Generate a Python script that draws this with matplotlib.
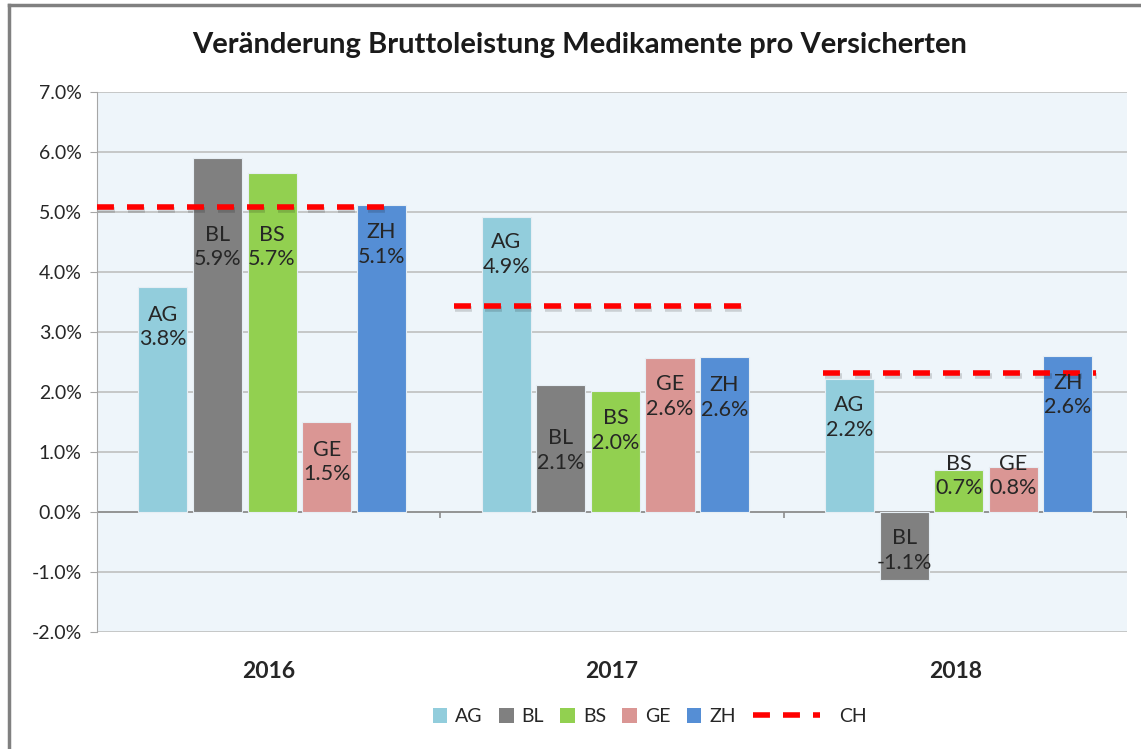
import numpy as np
import matplotlib
matplotlib.use('Agg')
import matplotlib.pyplot as plt
import matplotlib.patheffects as pe
from matplotlib.lines import Line2D
from matplotlib.patches import Patch

plt.rcParams['font.family'] = ['Lato', 'DejaVu Sans']

# data
years = ['2016', '2017', '2018']
cantons = ['AG', 'BL', 'BS', 'GE', 'ZH']
AG = [3.75, 4.92, 2.22]
BL = [5.90, 2.12, -1.13]
BS = [5.65, 2.02, 0.70]
GE = [1.50, 2.57, 0.75]
ZH = [5.12, 2.58, 2.60]
CH = [5.08, 3.43, 2.32]
values = [AG, BL, BS, GE, ZH]

colors = ['#92CDDC', '#808080', '#92D050', '#DA9694', '#558ED5']

# layout: CH line extents per year (relative to category centre)
ch_ext = [(-0.50, 0.35), (-0.46, 0.39), (-0.385, 0.41)]
# label centre offsets (pixels from bar end), per canton / year
lab_off = [[40, 38, 39],
           [89, 66, 29],
           [74, 40, 6],
           [40, 39, 9],
           [40, 40, 39]]

fig = plt.figure(figsize=(11.41, 7.49), dpi=100)
ax = fig.add_axes([0.085, 0.1562, 0.9027, 0.7210])
ax.set_facecolor('#EEF5FA')

x = np.arange(len(years))
step = 0.159
width = 0.143
shift = 0.01
for i, (name, vals) in enumerate(zip(cantons, values)):
    pos = x + shift + (i - 2) * step
    bars = ax.bar(pos, vals, width, color=colors[i], edgecolor='#E6EEF4',
                  linewidth=0.8, zorder=3)
    for j, b in enumerate(bars):
        v = vals[j]
        off = -lab_off[i][j] if v >= 0 else lab_off[i][j]
        ax.annotate(f'{name}\n{v:.1f}%', (pos[j], v), textcoords='offset pixels',
                    xytext=(0, off), ha='center', va='center', fontsize=15.5,
                    color='#262626', linespacing=1.3, zorder=5)

# CH reference lines
dash = (3.05, 2.35)
for j, v in enumerate(CH):
    ax.plot([x[j] + ch_ext[j][0], x[j] + ch_ext[j][1]], [v, v], color='#FF0000',
            lw=4, dashes=dash, zorder=4,
            path_effects=[pe.SimpleLineShadow(offset=(1, -2), alpha=0.15), pe.Normal()])

ax.set_xlim(-0.5, 2.5)
ax.set_ylim(-2, 7)
ax.set_yticks(np.arange(-2, 8, 1))
ax.set_yticklabels([f'{t:.1f}%' for t in np.arange(-2, 8, 1)])
ax.yaxis.grid(True, color='#BFBFBF', lw=1.2, zorder=0)
ax.set_axisbelow(True)
for s in ['top', 'right', 'bottom']:
    ax.spines[s].set_visible(False)
ax.spines['left'].set_color('#A6A6A6')
ax.tick_params(axis='y', length=5, color='#A6A6A6', labelsize=14, pad=6,
               labelcolor='#262626')

# zero axis with category separators
ax.axhline(0, color='#8C8C8C', lw=1.2, zorder=2)
ax.vlines([0.5, 1.5, 2.5], -0.1, 0, color='#8C8C8C', lw=1.2, zorder=2)

ax.set_xticks(x)
ax.set_xticklabels(years, fontsize=16.5, fontweight='bold', color='#262626')
ax.tick_params(axis='x', length=0, pad=21)

fig.text(0.508, 0.94, 'Veränderung Bruttoleistung Medikamente pro Versicherten',
         ha='center', va='center', fontsize=21, fontweight='bold', color='#1a1a1a')

# legends
h1 = [Patch(facecolor=c, edgecolor='none') for c in colors]
leg1 = fig.legend(h1, cantons, loc='center', bbox_to_anchor=(0.512, 0.043), ncol=5,
                  frameon=False, fontsize=14, handlelength=0.75, handleheight=0.75,
                  handletextpad=0.4, columnspacing=0.85, labelcolor='#262626')
h2 = [Line2D([0], [0], color='#FF0000', lw=4, dashes=dash)]
leg2 = fig.legend(h2, ['CH'], loc='center left', bbox_to_anchor=(0.645, 0.043),
                  frameon=False, fontsize=14, handlelength=3.4, handletextpad=1.0,
                  labelcolor='#262626')

# outer frame (left and top)
fig.add_artist(Line2D([0.0075, 0.0075], [0, 0.993], color='#808080', lw=2.5,
                      transform=fig.transFigure))
fig.add_artist(Line2D([0.0075, 1], [0.993, 0.993], color='#808080', lw=2.5,
                      transform=fig.transFigure))

fig.savefig('out.png', dpi=100, facecolor='white')
